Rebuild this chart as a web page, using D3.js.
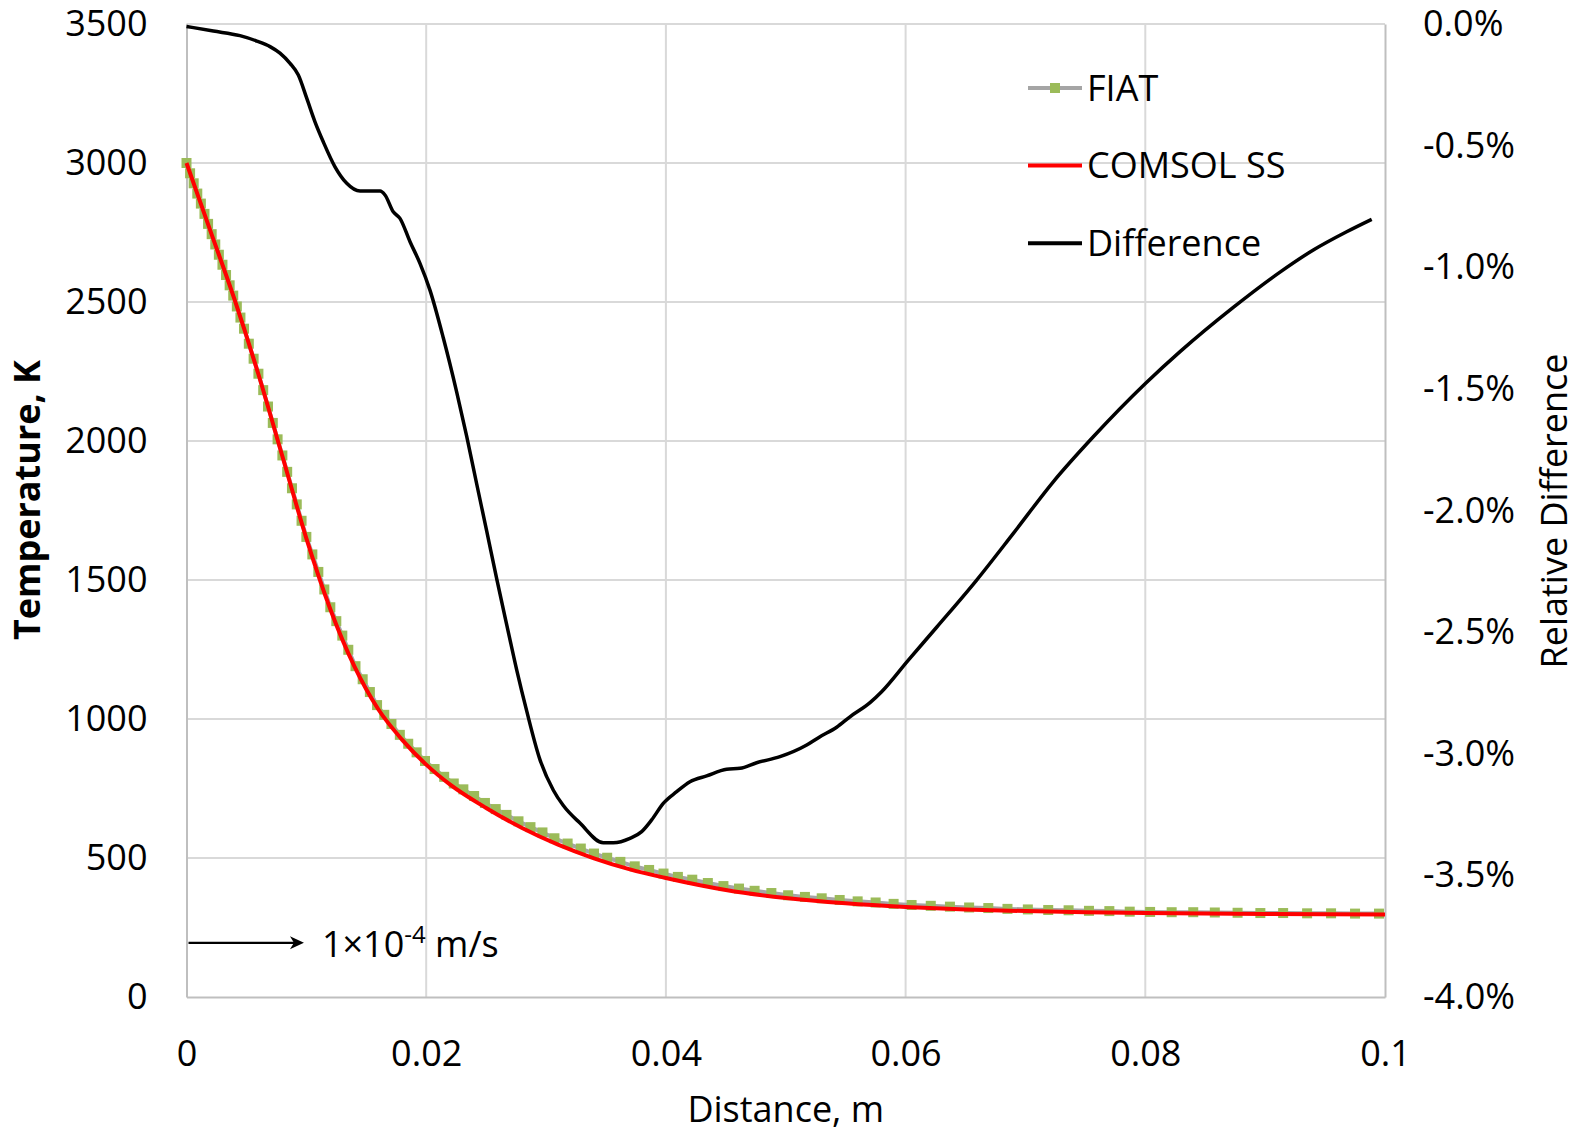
<!DOCTYPE html>
<html>
<head>
<meta charset="utf-8">
<script src="https://cdn.jsdelivr.net/npm/d3@7"></script>
<style>
  body { margin: 0; background: #fff; }
  text { font-family: "Open Sans", sans-serif; fill: #000; }
</style>
</head>
<body>
<div id="chart"></div>
<script>
// COMSOL steady state temperature (distance in m, K)
const comsolX = [0, 0.002, 0.004, 0.006, 0.008, 0.010, 0.012, 0.014, 0.016, 0.018, 0.020, 0.022, 0.025, 0.028,
  0.031, 0.034, 0.037, 0.040, 0.045, 0.050, 0.055, 0.060, 0.065, 0.070, 0.075, 0.080, 0.090, 0.100];
const comsolT = [3000, 2755, 2510, 2240, 1945, 1650, 1395, 1190, 1035, 925, 836, 764, 680, 608,
  548, 499, 459, 428, 385, 356, 337, 324, 315, 309, 305, 302, 299, 297];

// FIAT nodes (marker per node)
const fiatX = [0, 0.0003, 0.0006, 0.0009, 0.0012, 0.0015, 0.0018, 0.0021, 0.0024, 0.0027, 0.0030, 0.0033, 0.0036,
  0.0039, 0.0042, 0.0045, 0.0048, 0.0052, 0.0056, 0.0060, 0.0064, 0.0068, 0.0072, 0.0076, 0.0080, 0.0084, 0.0088,
  0.0092, 0.0096, 0.0100, 0.0105, 0.0110, 0.0115, 0.0120, 0.0125, 0.0130, 0.0135, 0.0141, 0.0147, 0.0153, 0.0159,
  0.0165, 0.0171, 0.0178, 0.0185, 0.0192, 0.0199, 0.0207, 0.0215, 0.0223, 0.0231, 0.0240, 0.0249, 0.0258, 0.0267,
  0.0277, 0.0287, 0.0297, 0.0307, 0.0318, 0.0329, 0.0340, 0.0351, 0.0362, 0.0374, 0.0386, 0.0398, 0.0410, 0.0422,
  0.0435, 0.0448, 0.0461, 0.0474, 0.0488, 0.0502, 0.0516, 0.0530, 0.0545, 0.0560, 0.0575, 0.0590, 0.0605, 0.0621,
  0.0637, 0.0653, 0.0669, 0.0685, 0.0702, 0.0719, 0.0736, 0.0753, 0.0770, 0.0787, 0.0804, 0.0822, 0.0840, 0.0858,
  0.0877, 0.0896, 0.0915, 0.0935, 0.0955, 0.0975, 0.0995];
const fiatT = [3000, 2963, 2927, 2890, 2854, 2817, 2781, 2744, 2707, 2670, 2634, 2597, 2560,
  2523, 2484, 2444, 2404, 2350, 2296, 2242, 2183, 2124, 2065, 2006, 1948, 1889, 1830,
  1772, 1713, 1655, 1592, 1529, 1466, 1402, 1352, 1300, 1249, 1190, 1143, 1097, 1050,
  1015, 982, 943, 911, 880, 849, 820, 792, 768, 747, 723, 698, 676, 655,
  632, 611, 592, 571, 552, 534, 516, 501, 486, 470, 457, 444, 432, 422,
  410, 399, 390, 382, 374, 366, 360, 355, 349, 344, 340, 335, 331, 328,
  325, 322, 320, 317, 315, 313, 312, 310, 309, 307, 306, 305, 305, 304,
  303, 302, 302, 301, 301, 300, 300];

// relative difference, % (secondary axis)
const diffX = [0, 0.00224, 0.00446, 0.00586, 0.00697, 0.0078, 0.00864, 0.00933, 0.01003, 0.01072, 0.01141, 0.01239,
  0.01337, 0.01448, 0.01615, 0.01656, 0.01725, 0.01781, 0.01865, 0.01948, 0.02032, 0.02143, 0.02254, 0.02338,
  0.02421, 0.02505, 0.02588, 0.02672, 0.02755, 0.02839, 0.02949, 0.03061, 0.03144, 0.03283, 0.03478, 0.03561,
  0.037, 0.03798, 0.03881, 0.03978, 0.0409, 0.04201, 0.0434, 0.04507, 0.04618, 0.04757, 0.04952, 0.05175,
  0.05286, 0.05425, 0.05536, 0.05703, 0.058, 0.06023, 0.06259, 0.06593, 0.06899, 0.07232, 0.07566, 0.08003,
  0.0829, 0.08734, 0.09124, 0.09402, 0.0968, 0.09889];
const diffPct = [-0.01, -0.029, -0.048, -0.070, -0.093, -0.120, -0.162, -0.210, -0.305, -0.402, -0.484, -0.587,
  -0.655, -0.687, -0.687, -0.703, -0.772, -0.799, -0.895, -0.984, -1.095, -1.291, -1.512, -1.695,
  -1.89, -2.085, -2.28, -2.47, -2.655, -2.825, -3.024, -3.150, -3.213, -3.285, -3.366, -3.366,
  -3.348, -3.320, -3.272, -3.204, -3.156, -3.115, -3.091, -3.064, -3.060, -3.037, -3.012, -2.964,
  -2.930, -2.891, -2.848, -2.79, -2.745, -2.615, -2.48, -2.286, -2.094, -1.882, -1.697, -1.477,
  -1.347, -1.165, -1.02, -0.929, -0.854, -0.803];

const tempTicks = [0, 500, 1000, 1500, 2000, 2500, 3000, 3500];
const pctTicks = [0, -0.5, -1, -1.5, -2, -2.5, -3, -3.5, -4];
const distTicks = [0, 0.02, 0.04, 0.06, 0.08, 0.1];
const distLabels = ["0", "0.02", "0.04", "0.06", "0.08", "0.1"];
const seriesNames = ["FIAT", "COMSOL SS", "Difference"];

// velocity annotation (data units)
const arrowX = [0, 0.0098];
const arrowT = 195;

var w = 1577,
    h = 1138;

var svg = d3.select("#chart")
    .append("svg")
    .attr("width", w)
    .attr("height", h)
    .style("background", "#fff");

var x = d3.scaleLinear().domain([0, 0.1]).range([186.5, 1385]);
var y = d3.scaleLinear().domain([0, 3500]).range([997, 24]);
var y2 = d3.scaleLinear().domain([-4, 0]).range([997, 24]);

// grid
svg.append("g").selectAll("line")
    .data(tempTicks.slice(1))
    .enter().append("line")
    .attr("x1", x(0)).attr("x2", x(0.1))
    .attr("y1", d => y(d)).attr("y2", d => y(d))
    .style("stroke", "#d9d9d9").style("stroke-width", 2);

svg.append("g").selectAll("line")
    .data(distTicks.slice(1, -1))
    .enter().append("line")
    .attr("x1", d => x(d)).attr("x2", d => x(d))
    .attr("y1", y(0)).attr("y2", y(3500))
    .style("stroke", "#d9d9d9").style("stroke-width", 2);

// axes
var xAxis = d3.axisBottom(x).tickValues(distTicks).tickSize(0).tickPadding(43)
    .tickFormat((d, i) => distLabels[i]);
var yAxis = d3.axisLeft(y).tickValues(tempTicks).tickSize(0).tickPadding(39)
    .tickFormat(d => String(d));
var yAxis2 = d3.axisRight(y2).tickValues(pctTicks).tickSize(0).tickPadding(38)
    .tickFormat(d => d.toFixed(1) + "%");

function styleAxis(g) {
  g.attr("font-size", 36).attr("font-family", "Open Sans");
  g.select(".domain").style("stroke", "#bfbfbf").style("stroke-width", 2);
  g.selectAll("text").style("fill", "#000");
}

svg.append("g").attr("transform", "translate(0," + y(0) + ")").call(xAxis).call(styleAxis);
svg.append("g").attr("transform", "translate(" + x(0) + ",0)").call(yAxis).call(styleAxis);
svg.append("g").attr("transform", "translate(" + x(0.1) + ",0)").call(yAxis2).call(styleAxis);

var fiat = fiatX.map((d, i) => ({ x: d, t: fiatT[i] }));
var comsol = comsolX.map((d, i) => ({ x: d, t: comsolT[i] }));
var diff = diffX.map((d, i) => ({ x: d, p: diffPct[i] }));

// FIAT
svg.append("path")
    .datum(fiat)
    .attr("d", d3.line().x(d => x(d.x)).y(d => y(d.t)))
    .style("fill", "none").style("stroke", "#a5a5a5").style("stroke-width", 4);

svg.append("g").selectAll("rect")
    .data(fiat)
    .enter().append("rect")
    .attr("x", d => x(d.x) - 5).attr("y", d => y(d.t) - 5)
    .attr("width", 10).attr("height", 10)
    .style("fill", "#9bbb59");

// COMSOL
svg.append("path")
    .datum(comsol)
    .attr("d", d3.line().curve(d3.curveMonotoneX).x(d => x(d.x)).y(d => y(d.t)))
    .style("fill", "none").style("stroke", "#ff0000").style("stroke-width", 4);

// Difference
svg.append("path")
    .datum(diff)
    .attr("d", d3.line().curve(d3.curveMonotoneX).x(d => x(d.x)).y(d => y2(d.p)))
    .style("fill", "none").style("stroke", "#000").style("stroke-width", 3.5)
    .style("stroke-linejoin", "round");

// legend
var leg = svg.append("g").attr("transform", "translate(1028,88)");
var legStyles = [
  { stroke: "#a5a5a5", marker: true },
  { stroke: "#ff0000", marker: false },
  { stroke: "#000", marker: false }
];
seriesNames.forEach(function(name, i) {
  var g = leg.append("g").attr("transform", "translate(0," + (i * 77.6) + ")");
  g.append("line").attr("x1", 0).attr("x2", 54).attr("y1", 0).attr("y2", 0)
      .style("stroke", legStyles[i].stroke).style("stroke-width", 4);
  if (legStyles[i].marker) {
    g.append("rect").attr("x", 22).attr("y", -5).attr("width", 10).attr("height", 10)
        .style("fill", "#9bbb59");
  }
  g.append("text").attr("x", 59).attr("dy", "0.35em").attr("font-size", 36).text(name);
});

// velocity arrow
var ay = y(arrowT);
var ax1 = x(arrowX[1]);
svg.append("line")
    .attr("x1", x(arrowX[0]) + 2).attr("x2", ax1 - 6)
    .attr("y1", ay).attr("y2", ay)
    .style("stroke", "#000").style("stroke-width", 2.2);
svg.append("path")
    .attr("d", "M" + ax1 + "," + ay + " L" + (ax1 - 14) + "," + (ay - 6.5) + " L" + (ax1 - 10) + "," + ay +
      " L" + (ax1 - 14) + "," + (ay + 6.5) + " Z")
    .style("fill", "#000");

var lab = svg.append("text")
    .attr("x", ax1 + 18).attr("y", ay + 14)
    .attr("font-size", 36);
lab.append("tspan").text("1×10");
lab.append("tspan").attr("dy", -14).attr("font-size", 24).text("-4");
lab.append("tspan").attr("dy", 14).text(" m/s");

// axis titles
svg.append("text")
    .attr("transform", "translate(40,500) rotate(-90)")
    .attr("text-anchor", "middle")
    .attr("font-size", 36)
    .attr("font-weight", "bold")
    .text("Temperature, K");

svg.append("text")
    .attr("transform", "translate(1567,511) rotate(-90)")
    .attr("text-anchor", "middle")
    .attr("font-size", 36)
    .text("Relative Difference");

svg.append("text")
    .attr("x", (x(0) + x(0.1)) / 2)
    .attr("y", 1122)
    .attr("text-anchor", "middle")
    .attr("font-size", 36)
    .text("Distance, m");
</script>
</body>
</html>
